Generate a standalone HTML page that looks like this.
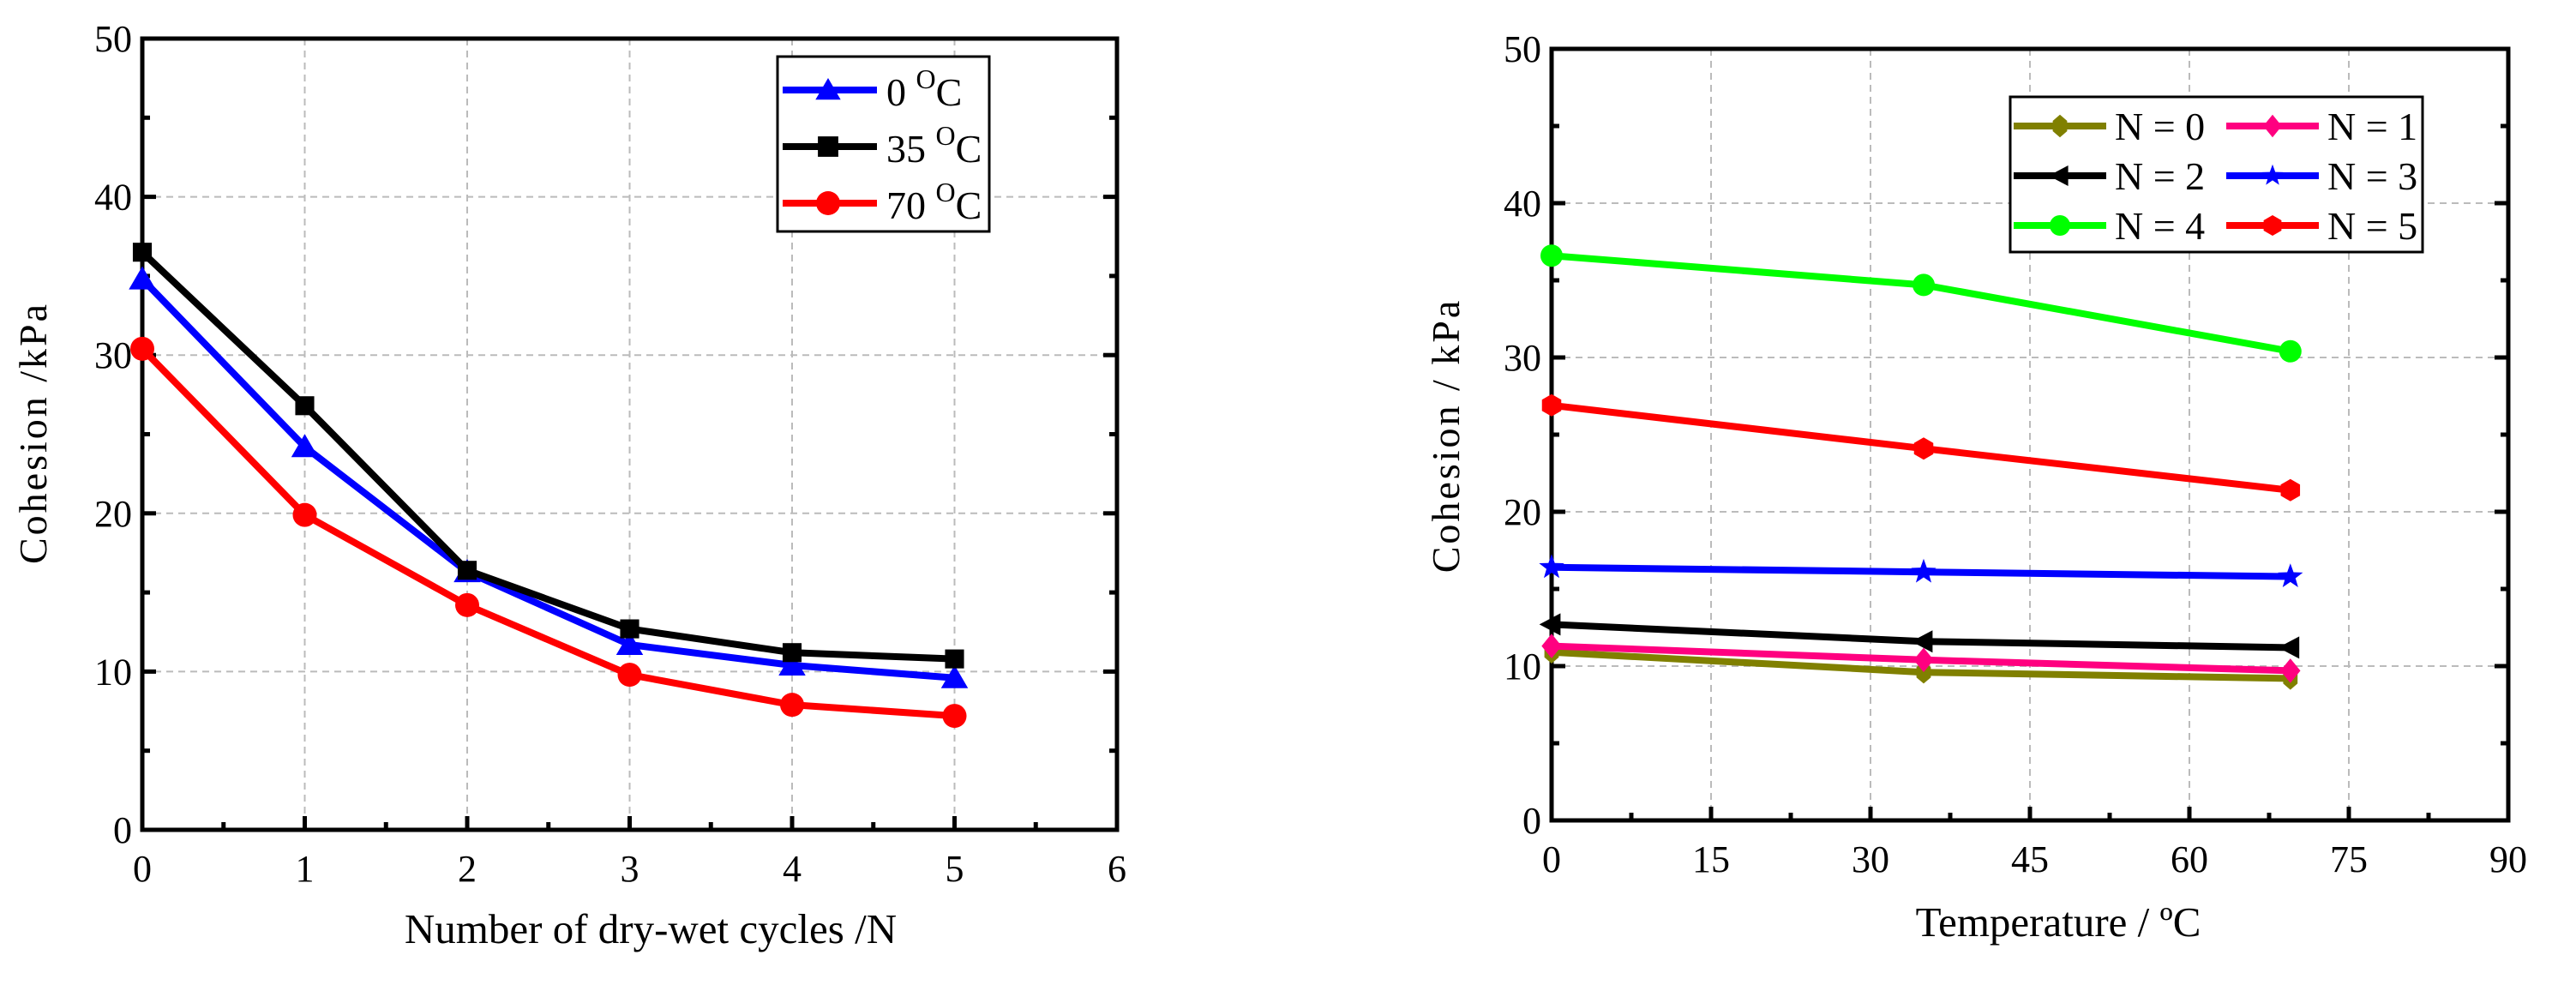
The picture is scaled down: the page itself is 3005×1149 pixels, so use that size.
<!DOCTYPE html>
<html><head><meta charset="utf-8"><style>
html,body{margin:0;padding:0;background:#fff}
svg{display:block}
text{font-family:"Liberation Serif",serif;fill:#000}
</style></head><body>
<svg id="chart" width="3005" height="1149" viewBox="0 0 3005 1149" xmlns="http://www.w3.org/2000/svg"></svg>
<script>
// Left chart data
const cyclesX = [0,1,2,3,4,5];
const temp0 = [34.8,24.2,16.3,11.7,10.4,9.6];
const temp35 = [36.5,26.8,16.4,12.7,11.2,10.8];
const temp70 = [30.4,19.9,14.2,9.8,7.9,7.2];
const leftXTicks = [0,1,2,3,4,5,6];
const leftYTicks = [0,10,20,30,40,50];
// Right chart data
const tempX = [0,35,69.5];
const n0 = [10.9,9.6,9.2];
const n1 = [11.3,10.4,9.7];
const n2 = [12.7,11.6,11.2];
const n3 = [16.4,16.1,15.8];
const n4 = [36.6,34.7,30.4];
const n5 = [26.9,24.1,21.4];
const rightXTicks = [0,15,30,45,60,75,90];
const rightYTicks = [0,10,20,30,40,50];

const svg = document.getElementById('chart');
const NS = 'http://www.w3.org/2000/svg';
function mk(tag, attrs, parent){
  const e = document.createElementNS(NS, tag);
  for (const k in attrs) e.setAttribute(k, attrs[k]);
  (parent||svg).appendChild(e);
  return e;
}

function marker(g, type, cx, cy, color, s){
  let m;
  if (type==='tri') m = mk('polygon',{points:`${cx},${cy-s} ${cx+s*1.05},${cy+s*0.8} ${cx-s*1.05},${cy+s*0.8}`,fill:color},g);
  else if (type==='sq') m = mk('rect',{x:cx-s*0.85,y:cy-s*0.85,width:s*1.7,height:s*1.7,fill:color},g);
  else if (type==='circ') m = mk('circle',{cx:cx,cy:cy,r:s,fill:color},g);
  else if (type==='dia') m = mk('polygon',{points:`${cx},${cy-s*1.1} ${cx+s*0.9},${cy} ${cx},${cy+s*1.1} ${cx-s*0.9},${cy}`,fill:color},g);
  else if (type==='ltri') m = mk('polygon',{points:`${cx-s*1.1},${cy} ${cx+s*0.8},${cy-s} ${cx+s*0.8},${cy+s}`,fill:color},g);
  else if (type==='hex') { let p=[]; for(let i=0;i<6;i++){const a=Math.PI/6+i*Math.PI/3;p.push((cx+s*Math.cos(a))+','+(cy+s*Math.sin(a)));} m=mk('polygon',{points:p.join(' '),fill:color},g); }
  else if (type==='star') { let p=[]; for(let i=0;i<10;i++){const a=-Math.PI/2+i*Math.PI/5;const r=i%2?s*0.45:s*1.1;p.push((cx+r*Math.cos(a))+','+(cy+r*Math.sin(a)));} m=mk('polygon',{points:p.join(' '),fill:color},g); }
  else if (type==='oct') { m = mk('polygon',{points:`${cx},${cy-s*1.1} ${cx+s*0.7},${cy-s*0.5} ${cx+s*0.7},${cy+s*0.5} ${cx},${cy+s*1.1} ${cx-s*0.7},${cy+s*0.5} ${cx-s*0.7},${cy-s*0.5}`,fill:color},g); }
  
  
  return m;
}

function drawAxes(cfg){
  const {x0,x1,y0,y1,xmin,xmax,ymin,ymax,xt,yt,xminor,yminor,name} = cfg;
  const sx = v => x0 + (v-xmin)/(xmax-xmin)*(x1-x0);
  const sy = v => y0 - (v-ymin)/(ymax-ymin)*(y0-y1);
  const g = mk('g',{});
  
  
  xt.forEach(v=>{ if(v!==xmin && v!==xmax){ const l=mk('line',{x1:sx(v),x2:sx(v),y1:y1,y2:y0,stroke:'#bbb','stroke-width':2,'stroke-dasharray':'8,6'},g);   }});
  yt.forEach(v=>{ if(v!==ymin && v!==ymax){ const l=mk('line',{x1:x0,x2:x1,y1:sy(v),y2:sy(v),stroke:'#bbb','stroke-width':2,'stroke-dasharray':'8,6'},g);   }});
  xt.forEach(v=>{ mk('line',{x1:sx(v),x2:sx(v),y1:y0,y2:y0-16,stroke:'#000','stroke-width':5},g); });
  xminor.forEach(v=>{ mk('line',{x1:sx(v),x2:sx(v),y1:y0,y2:y0-9,stroke:'#000','stroke-width':5},g); });
  yt.forEach(v=>{ mk('line',{x1:x0,x2:x0+16,y1:sy(v),y2:sy(v),stroke:'#000','stroke-width':5},g); mk('line',{x1:x1,x2:x1-16,y1:sy(v),y2:sy(v),stroke:'#000','stroke-width':5},g);});
  yminor.forEach(v=>{ mk('line',{x1:x0,x2:x0+9,y1:sy(v),y2:sy(v),stroke:'#000','stroke-width':5},g); mk('line',{x1:x1,x2:x1-9,y1:sy(v),y2:sy(v),stroke:'#000','stroke-width':5},g);});
  const fr = mk('rect',{x:x0,y:y1,width:x1-x0,height:y0-y1,fill:'none',stroke:'#000','stroke-width':5},g);
  
  
  xt.forEach(v=>{ const t=mk('text',{x:sx(v),y:y0+60,'font-size':44,'text-anchor':'middle'},g); t.textContent=v;
      });
  yt.forEach(v=>{ const t=mk('text',{x:x0-12,y:sy(v)+15,'font-size':44,'text-anchor':'end'},g); t.textContent=v;
      });
  return {sx,sy};
}

function series(sc, xs, ys, color, type, name, s){
  const g = mk('g',{});
  
  
  const pts = xs.map((x,i)=>sc.sx(x)+','+sc.sy(ys[i])).join(' ');
  const pl = mk('polyline',{points:pts,fill:'none',stroke:color,'stroke-width':8,'stroke-linejoin':'round'},g);
  
  
  xs.forEach((x,i)=>marker(g,type,sc.sx(x),sc.sy(ys[i]),color,s));
}

// LEFT
const L = drawAxes({x0:166,x1:1303,y0:968,y1:45,xmin:0,xmax:6,ymin:0,ymax:50,xt:leftXTicks,yt:leftYTicks,
  xminor:[0.5,1.5,2.5,3.5,4.5,5.5],yminor:[5,15,25,35,45],name:'left'});
series(L,cyclesX,temp70,'#ff0000','circ','series-70c',14);
series(L,cyclesX,temp0,'#0000ff','tri','series-0c',15);
series(L,cyclesX,temp35,'#000000','sq','series-35c',13);

let t;
t = mk('text',{x:0,y:0,'font-size':46,'text-anchor':'middle',transform:'translate(54,505) rotate(-90)','letter-spacing':'3'});
t.textContent='Cohesion  /kPa';
 
t = mk('text',{x:759,y:1100,'font-size':49,'text-anchor':'middle'});
t.textContent='Number of dry-wet cycles /N';
 

const lg = mk('g',{});


mk('rect',{x:907,y:66,width:247,height:204,fill:'#fff',stroke:'#000','stroke-width':3},lg);
const leftLeg = [['#0000ff','tri','0'],['#000000','sq','35'],['#ff0000','circ','70']];
leftLeg.forEach((d,i)=>{
  const y = 105 + i*66;
  const e = mk('g',{},lg);
  
  
  mk('line',{x1:913,x2:1023,y1:y,y2:y,stroke:d[0],'stroke-width':8},e);
  marker(e,d[1],966,y,d[0],14);
  const tx = mk('text',{x:1034,y:y+18,'font-size':46},e);
  tx.innerHTML = d[2]+' <tspan font-size="32" dy="-20">O</tspan><tspan dy="20">C</tspan>';
});

// RIGHT
const R = drawAxes({x0:1810,x1:2926,y0:957,y1:57,xmin:0,xmax:90,ymin:0,ymax:50,xt:rightXTicks,yt:rightYTicks,
  xminor:[7.5,22.5,37.5,52.5,67.5,82.5],yminor:[5,15,25,35,45],name:'right'});
series(R,tempX,n0,'#808000','oct','series-n0',12);
series(R,tempX,n1,'#ff0080','dia','series-n1',13);
series(R,tempX,n2,'#000000','ltri','series-n2',13);
series(R,tempX,n3,'#0000ff','star','series-n3',14);
series(R,tempX,n4,'#00ff00','circ','series-n4',13);
series(R,tempX,n5,'#ff0000','hex','series-n5',13);

t = mk('text',{x:0,y:0,'font-size':46,'text-anchor':'middle',transform:'translate(1702,508) rotate(-90)','letter-spacing':'3'});
t.textContent='Cohesion / kPa';
 
t = mk('text',{x:2401,y:1092,'font-size':49,'text-anchor':'middle'});
t.textContent='Temperature / ºC';
 

const rg = mk('g',{});


mk('rect',{x:2345,y:113,width:481,height:181,fill:'#fff',stroke:'#000','stroke-width':3},rg);
const rightLeg = [['#808000','oct','N = 0'],['#ff0080','dia','N = 1'],['#000000','ltri','N = 2'],['#0000ff','star','N = 3'],['#00ff00','circ','N = 4'],['#ff0000','hex','N = 5']];
rightLeg.forEach((d,i)=>{
  const col = i%2, row = Math.floor(i/2);
  const bx = 2349 + col*248, y = 147 + row*58;
  const e = mk('g',{},rg);
  
  
  mk('line',{x1:bx,x2:bx+108,y1:y,y2:y,stroke:d[0],'stroke-width':8},e);
  marker(e,d[1],bx+54,y,d[0],12);
  const tx = mk('text',{x:bx+118,y:y+16,'font-size':46},e);
  tx.textContent = d[2];
});
</script>
</body></html>
